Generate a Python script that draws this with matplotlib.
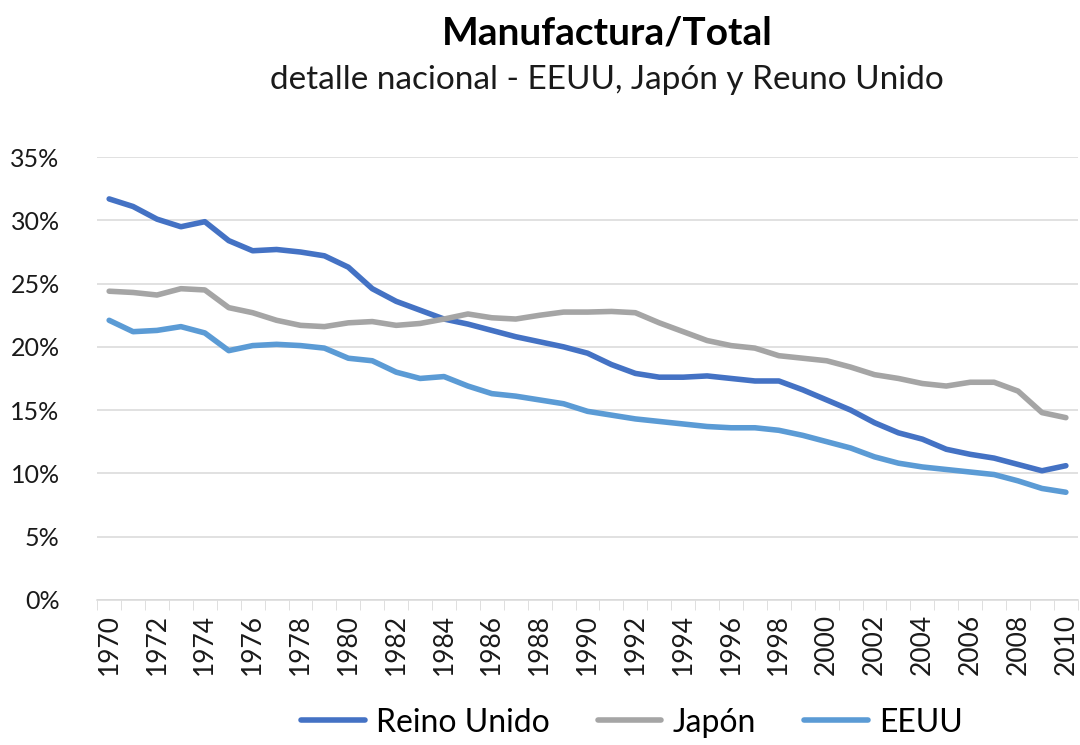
"""Manufacturing share of total employment: UK, Japan and US, 1970-2010."""

import matplotlib.pyplot as plt
from matplotlib.ticker import FuncFormatter, MultipleLocator

plt.rcParams["font.family"] = ["Lato", "DejaVu Sans"]

years = list(range(1970, 2011))

reino_unido = [
    31.7, 31.1, 30.1, 29.5, 29.9, 28.4, 27.6, 27.7, 27.5, 27.2,
    26.3, 24.6, 23.6, 22.9, 22.2, 21.8, 21.3, 20.8, 20.4, 20.0,
    19.5, 18.6, 17.9, 17.6, 17.6, 17.7, 17.5, 17.3, 17.3, 16.6,
    15.8, 15.0, 14.0, 13.2, 12.7, 11.9, 11.5, 11.2, 10.7, 10.2, 10.6,
]
japon = [
    24.4, 24.3, 24.1, 24.6, 24.5, 23.1, 22.7, 22.1, 21.7, 21.6,
    21.9, 22.0, 21.7, 21.85, 22.2, 22.6, 22.3, 22.2, 22.5, 22.75,
    22.75, 22.8, 22.7, 21.9, 21.2, 20.5, 20.1, 19.9, 19.3, 19.1,
    18.9, 18.4, 17.8, 17.5, 17.1, 16.9, 17.2, 17.2, 16.5, 14.8, 14.4,
]
eeuu = [
    22.1, 21.2, 21.3, 21.6, 21.1, 19.7, 20.1, 20.2, 20.1, 19.9,
    19.1, 18.9, 18.0, 17.5, 17.65, 16.9, 16.3, 16.1, 15.8, 15.5,
    14.9, 14.6, 14.3, 14.1, 13.9, 13.7, 13.6, 13.6, 13.4, 13.0,
    12.5, 12.0, 11.3, 10.8, 10.5, 10.3, 10.1, 9.9, 9.4, 8.8, 8.5,
]

series = [
    ("Reino Unido", reino_unido, "#4472C4"),
    ("Japón", japon, "#A5A5A5"),
    ("EEUU", eeuu, "#5B9BD5"),
]

fig = plt.figure(figsize=(10.8, 7.45), dpi=100, facecolor="white")
ax = fig.add_axes([0.09, 0.195, 0.908, 0.594])

for name, values, color in series:
    ax.plot(years, [v / 100 for v in values], color=color, lw=4.0,
            label=name, solid_capstyle="round", solid_joinstyle="round")

ax.set_ylim(0, 0.35)
ax.set_xlim(1969.5, 2010.5)
ax.yaxis.set_major_locator(MultipleLocator(0.05))
ax.yaxis.set_major_formatter(FuncFormatter(lambda v, _: f"{v * 100:.0f}%"))
ax.grid(axis="y", color="#D9D9D9", lw=1.1)
ax.set_axisbelow(True)

# labels on even years, tick marks on category boundaries
ax.set_xticks(years[::2])
ax.set_xticklabels([str(y) for y in years[::2]], rotation=90)
ax.set_xticks([y - 0.5 for y in years] + [2010.5], minor=True)
ax.tick_params(axis="x", which="major", length=0, pad=10,
               labelsize=19, labelcolor="#1a1a1a")
ax.tick_params(axis="x", which="minor", length=7, color="#D9D9D9")
ax.tick_params(axis="y", length=0, pad=27, labelsize=18,
               labelcolor="#1a1a1a")

for side in ("top", "right", "left"):
    ax.spines[side].set_visible(False)
ax.spines["bottom"].set_color("#D9D9D9")
ax.spines["bottom"].set_linewidth(1.1)

fig.text(0.562, 0.956, "Manufactura/Total", ha="center", va="center",
         fontsize=28, fontweight="bold", color="black")
fig.text(0.562, 0.892, "detalle nacional - EEUU, Japón y Reuno Unido",
         ha="center", va="center", fontsize=24, color="#1a1a1a")

fig.legend(loc="center", bbox_to_anchor=(0.585, 0.03), ncol=3,
           frameon=False, fontsize=23, handlelength=2.0,
           handletextpad=0.35, columnspacing=1.5)

fig.savefig("out.png", dpi=100, facecolor="white")
